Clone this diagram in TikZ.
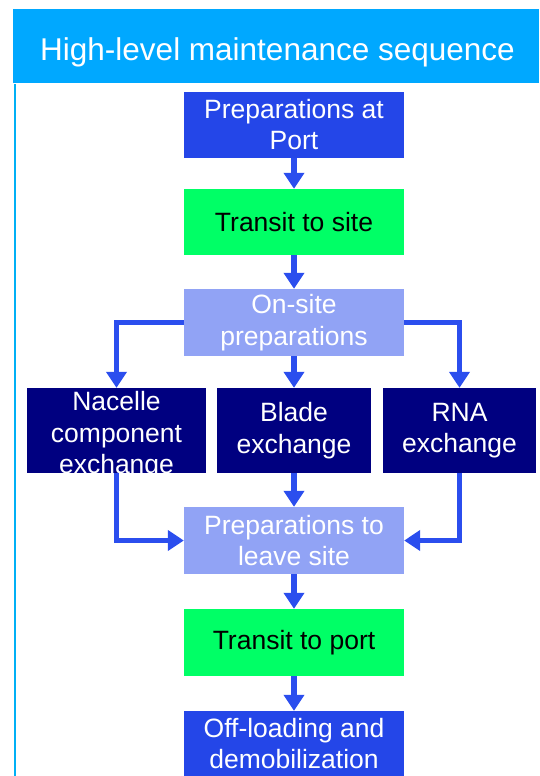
\documentclass[tikz,border=0pt]{standalone}
\usepackage{fontspec}
\setmainfont{Liberation Sans}
\usetikzlibrary{arrows.meta}

\definecolor{headblue}{HTML}{00A8FF}
\definecolor{edgeblue}{HTML}{00B0F5}
\definecolor{portblue}{HTML}{2446E8}
\definecolor{transgreen}{HTML}{00FF66}
\definecolor{prepblue}{HTML}{91A3F5}
\definecolor{jobnavy}{HTML}{000080}
\definecolor{flowblue}{HTML}{2B4EEE}

\begin{document}
\begin{tikzpicture}[
        x=1pt, y=-1pt,
        stage/.style={rectangle, inner sep=0pt, align=center,
                minimum width=220pt, minimum height=66pt,
                font=\fontsize{26.5}{31.5}\selectfont},
        portstage/.style={stage, fill=portblue, text=white},
        transitstage/.style={stage, fill=transgreen, text=black},
        prepstage/.style={stage, fill=prepblue, text=white},
        jobstage/.style={stage, fill=jobnavy, text=white, minimum height=85pt},
        flow/.style={draw=flowblue, line width=5.5pt,
                -{Triangle[width=20pt, length=16pt]}}
    ]
    \useasboundingbox (0,0) rectangle (539,776);

    % header bar and side rule
    \fill[headblue] (13,9) rectangle (539,83);
    \draw[edgeblue, line width=2pt] (15.4,84) -- (15.4,776);
    \node[anchor=base, text=white, inner sep=0pt,
        font=\fontsize{31.5}{36}\selectfont] (title) at (277.5,60)
        {High-level maintenance sequence};

    % main sequence
    \node[portstage] (port) at (294,124.5) {Preparations at\\Port};
    \node[transitstage] (tosite) at (294,222) {Transit to site};
    \node[prepstage, minimum height=67pt] (onsite) at (294,322.5) {On-site\\preparations};

    % exchange options
    \node[jobstage, minimum width=179pt] (nacelle) at (116.5,430.5) {};
    \node[text=white, align=center, inner sep=0pt,
        font=\fontsize{26.5}{31.5}\selectfont] (nacelletext)
        at ([yshift=-5pt]nacelle.center) {Nacelle\\component\\exchange};
    \node[jobstage, minimum width=154pt] (blade) at (294,430.5) {Blade\\exchange};
    \node[jobstage, minimum width=153pt] (rna) at (459.5,430.5) {RNA\\exchange};

    \node[prepstage, minimum height=67pt] (leave) at (294,540.5) {Preparations to\\leave site};
    \node[transitstage, minimum height=67pt] (toport) at (294,642.5) {Transit to port};
    \node[portstage, minimum height=65pt] (offload) at (294,743.5) {Off-loading and\\demobilization};

    % arrows
    \draw[flow] (port) -- (tosite);
    \draw[flow] (tosite) -- (onsite);
    \draw[flow] (onsite.west) -| (nacelle.north);
    \draw[flow] (onsite) -- (blade);
    \draw[flow] (onsite.east) -| (rna.north);
    \draw[flow] (nacelle.south) |- (leave.west);
    \draw[flow] (blade) -- (leave);
    \draw[flow] (rna.south) |- (leave.east);
    \draw[flow] (leave) -- (toport);
    \draw[flow] (toport) -- (offload);
\end{tikzpicture}
\end{document}
